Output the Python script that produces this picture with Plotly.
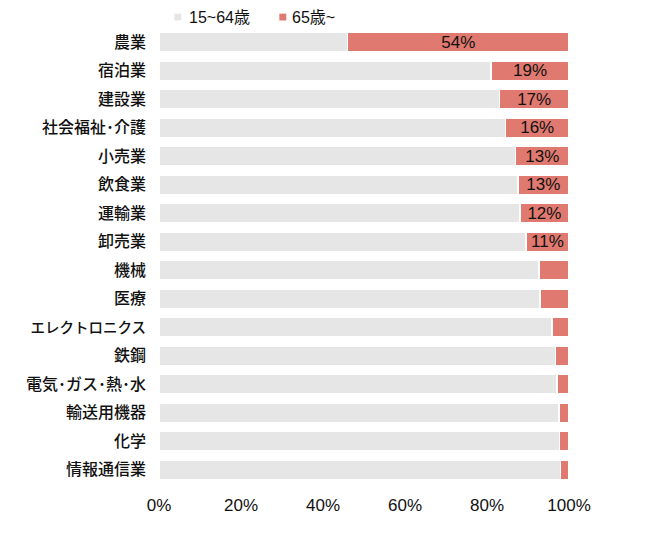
import plotly.graph_objects as go

categories = ["農業", "宿泊業", "建設業", "社会福祉･介護", "小売業", "飲食業", "運輸業", "卸売業",
              "機械", "医療", "エレクトロニクス", "鉄鋼", "電気･ガス･熱･水", "輸送用機器", "化学", "情報通信業"]
senior = [54, 19, 17, 15.5, 13, 12.5, 12, 10.5, 7.3, 7.1, 4.2, 3.3, 2.9, 2.5, 2.3, 2.1]
working = [46, 81, 83, 84.5, 87, 87.5, 88, 89.5, 92.7, 92.9, 95.8, 96.7, 97.1, 97.5, 97.7, 97.9]
senior_labels = ["54%", "19%", "17%", "16%", "13%", "13%", "12%", "11%", "", "", "", "", "", "", "", ""]
series_names = ["15~64歳", "65歳~"]
series_colors = ["#e6e6e6", "#e07a70"]
ticks = [0, 20, 40, 60, 80, 100]
tick_text = ["0%", "20%", "40%", "60%", "80%", "100%"]

jp_font = "Noto Sans CJK JP, Noto Sans, sans-serif"
num_font = "Liberation Sans, Arial, Noto Sans CJK JP, sans-serif"

# narrower rendering for the katakana label (it is set more compactly in the original)
label_size_override = {"エレクトロニクス": 14.5}
cat_ticktext = [
    f'<span style="font-size:{label_size_override[c]}px">{c}</span>' if c in label_size_override else c
    for c in categories
]

fig = go.Figure()
fig.add_trace(go.Bar(
    y=categories, x=working, orientation="h", name=series_names[0],
    marker=dict(color=series_colors[0], line=dict(color="white", width=1.5)),
    hoverinfo="skip",
))
fig.add_trace(go.Bar(
    y=categories, x=senior, orientation="h", name=series_names[1],
    marker=dict(color=series_colors[1], line=dict(color="white", width=1.5)),
    text=senior_labels, textposition="inside", insidetextanchor="middle",
    constraintext="none",
    textfont=dict(color="#111111", size=17, family=num_font),
    hoverinfo="skip",
))

# legend drawn as small squares + text above the plot
legend_items = [(0.046, 0.068), (0.302, 0.320)]
for (sx, tx), name, color in zip(legend_items, series_names, series_colors):
    fig.add_shape(type="rect", xref="paper", yref="paper",
                  x0=sx - 0.0085, x1=sx + 0.0085, y0=1.0165, y1=1.0315,
                  fillcolor=color, line=dict(width=0))
    fig.add_annotation(xref="paper", yref="paper", x=tx, y=1.024, xanchor="left",
                       yanchor="middle", text=name, showarrow=False,
                       font=dict(size=16, color="#111111", family=num_font))

fig.update_layout(
    barmode="stack",
    bargap=0.3,
    width=660, height=534,
    margin=dict(l=151, r=99, t=20, b=58, autoexpand=False),
    paper_bgcolor="white", plot_bgcolor="white",
    font=dict(family=jp_font, color="#111111", size=13),
    showlegend=False,
    xaxis=dict(range=[0, 100], tickvals=ticks, ticktext=tick_text, showgrid=False,
               zeroline=False, showline=False, ticks="", ticklabelstandoff=9,
               tickfont=dict(size=17, color="#111111", family=num_font),
               fixedrange=True),
    yaxis=dict(autorange="reversed", tickmode="array", tickvals=categories,
               ticktext=cat_ticktext, showgrid=False, zeroline=False, showline=False,
               ticks="", ticklabelstandoff=12,
               tickfont=dict(size=16, color="#111111", weight=500),
               fixedrange=True),
)

fig.write_html("out.html")
